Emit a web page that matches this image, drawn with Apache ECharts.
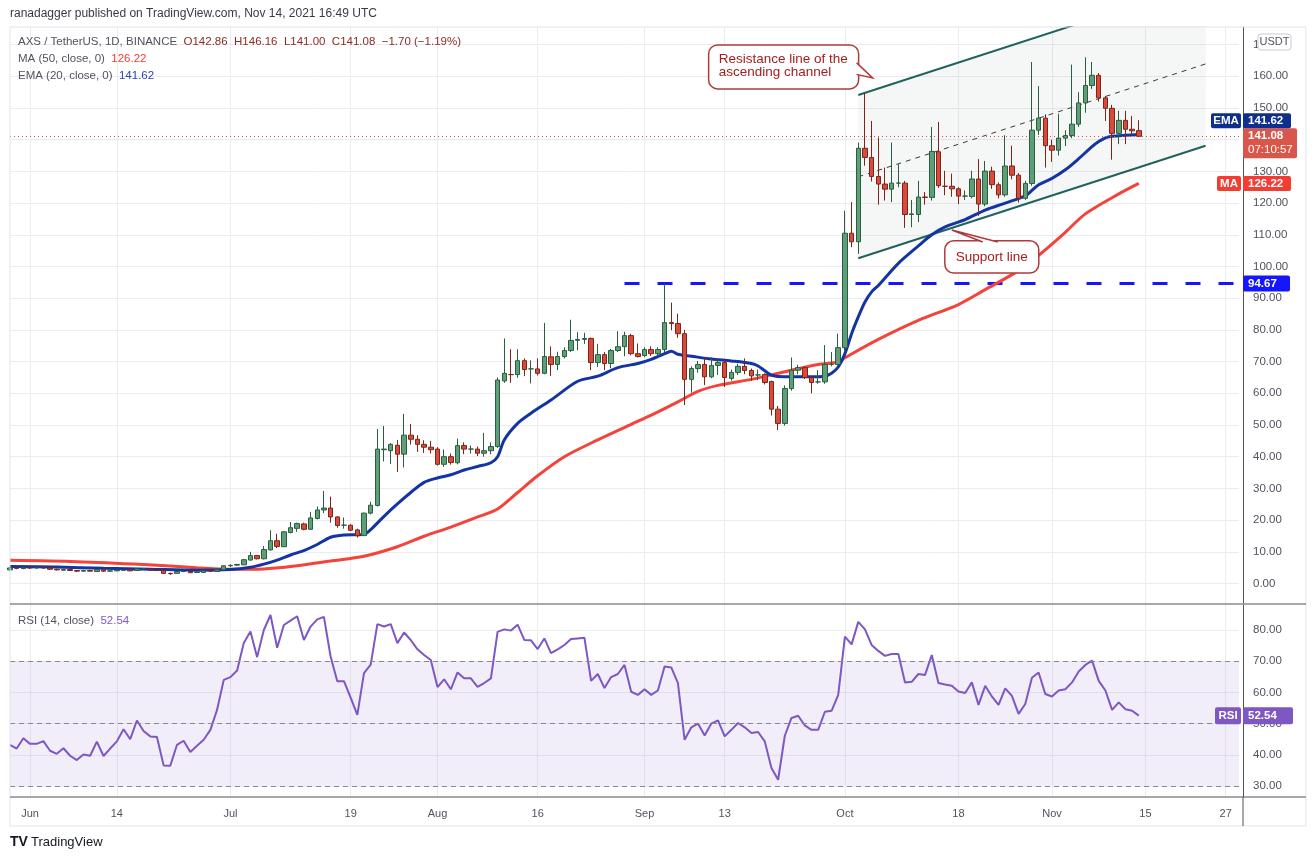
<!DOCTYPE html>
<html>
<head>
<meta charset="utf-8">
<title>AXS / TetherUS 1D</title>
<script src="https://cdn.jsdelivr.net/npm/echarts@6/dist/echarts.min.js"></script>
<style>
html, body { margin: 0; padding: 0; background: #fff; }
#chart { width: 1315px; height: 860px; }
</style>
</head>
<body>
<div id="chart"></div>
<script>
// ---- data ----
var tickDates = ['2021-06-01','2021-06-14','2021-07-01','2021-07-19','2021-08-01','2021-08-16',
  '2021-09-01','2021-09-13','2021-10-01','2021-10-18','2021-11-01','2021-11-15','2021-11-27'];
var priceTicks = [0,10,20,30,40,50,60,70,80,90,100,110,120,130,140,150,160,170];
var rsiTicks = [30,40,50,60,70,80];

// [open, close, low, high]
var ohlcMay = [[4.3,4.9,4.0,5.3],[4.9,4.8,4.5,5.2],[4.7,5.0,4.5,5.3]];
var ohlcJun = [
  [5.0,4.9,4.6,5.2],[4.9,5.0,4.7,5.3],[5.0,4.9,4.7,5.4],[4.9,4.5,4.3,5.1],[4.5,4.3,4.1,4.7],
  [4.2,4.4,4.1,4.6],[4.4,4.1,4.0,4.6],[4.1,3.9,3.6,4.2],[3.9,4.1,3.7,4.3],[4.1,3.9,3.8,4.3],
  [3.8,4.4,3.7,4.5],[4.3,3.9,3.7,4.4],[3.9,4.0,3.7,4.1],[4.0,4.2,3.9,4.4],[4.2,4.2,4.0,4.4],
  [4.3,4.0,3.9,4.4],[4.1,4.6,4.0,4.8],[4.6,4.6,4.3,4.8],[4.5,4.2,4.1,4.6],[4.2,4.1,3.9,4.3],
  [4.1,3.2,3.0,4.2],[3.2,3.1,2.7,3.4],[3.2,3.8,3.1,3.9],[3.8,3.8,3.6,4.0],[3.8,3.4,3.3,3.9],
  [3.5,3.6,3.3,3.7],[3.5,4.0,3.4,4.1],[4.0,3.9,3.7,4.2],[3.8,4.3,3.7,4.5],[4.3,5.6,4.2,5.8]
];
var ohlcJul = [
  [5.6,5.75,5.2,6.0],[5.8,6.0,5.5,6.2],[5.9,7.5,5.8,7.8],[7.4,8.8,7.2,10.0],[8.8,7.8,7.6,9.0],
  [7.8,10.7,7.6,11.8],[10.6,13.5,10.4,16.8],[13.5,11.7,11.2,15.7],[11.6,16.3,11.5,16.6],[16.1,17.6,15.8,19.4],
  [17.4,18.9,16.3,19.2],[18.8,17.1,16.8,19.2],[17.1,20.7,16.9,22.6],[20.5,23.2,20.2,24.3],[23.2,23.8,22.2,29.2],
  [23.8,21.0,19.2,27.4],[21.0,18.3,17.6,21.2],[18.4,18.4,17.3,20.8],[18.4,16.8,16.5,18.7],[16.9,15.1,14.5,17.3],
  [15.1,22.2,15.0,22.4],[22.2,24.7,21.8,25.8],[24.6,42.4,24.3,48.7],[42.2,42.4,38.5,49.7],[41.9,43.9,37.7,44.3],
  [43.6,40.8,35.2,45.3],[40.8,46.8,36.6,53.5],[46.8,45.5,43.8,50.3],[45.5,43.9,41.5,46.8],[43.9,43.0,41.2,45.2],
  [43.0,42.2,41.0,45.0]
];
var ohlcAug = [
  [42.4,37.6,37.2,43.0],[37.6,40.0,36.8,42.3],[40.0,38.2,37.5,41.0],[38.1,43.5,37.6,45.7],[43.5,42.4,40.8,44.5],
  [42.4,42.4,41.0,43.5],[42.4,41.1,40.2,43.2],[41.1,41.9,40.0,47.5],[41.9,43.2,40.8,44.5],[43.2,64.2,42.8,65.0],
  [63.9,66.3,63.3,77.3],[65.9,65.9,63.3,73.9],[65.9,70.3,64.9,73.9],[70.3,67.5,65.4,71.0],[67.7,67.7,63.1,70.4],
  [67.7,66.3,65.6,71.0],[66.3,71.6,66.0,82.2],[71.5,69.1,65.5,74.8],[69.1,71.6,67.3,73.1],[71.6,73.5,71.0,74.5],
  [73.5,76.7,73.0,83.2],[76.7,77.0,73.6,79.3],[77.0,77.3,75.6,79.1],[77.3,69.7,67.3,77.6],[69.7,72.2,68.3,75.6],
  [72.2,69.4,67.3,73.0],[69.4,73.5,67.9,74.0],[73.5,74.7,73.0,79.6],[74.7,78.2,71.7,79.4],[78.2,72.5,72.0,78.8],
  [72.5,71.6,71.3,75.7]
];
var ohlcSep = [
  [71.9,73.8,71.4,74.5],[73.8,72.5,71.8,74.8],[72.5,73.8,71.9,74.5],[73.8,82.3,73.0,94.6],[82.3,82.0,79.9,88.6],
  [82.0,78.8,77.5,85.1],[78.8,64.4,56.3,80.0],[64.4,67.8,60.2,68.5],[67.8,69.1,66.5,70.2],[69.1,65.2,62.6,71.3],
  [65.2,68.8,64.8,71.3],[68.8,69.7,65.8,71.0],[69.7,65.0,62.0,70.8],[64.7,66.6,64.0,67.5],[66.6,68.5,65.8,69.3],
  [68.5,67.2,66.0,71.0],[67.2,65.5,64.0,67.8],[65.8,65.8,64.2,67.5],[65.9,63.4,62.8,66.3],[63.7,55.0,53.0,64.0],
  [55.0,50.5,48.4,56.0],[50.5,61.5,49.8,62.5],[61.5,67.3,60.8,71.3],[67.3,68.1,66.0,69.0],[68.1,65.0,64.5,68.5],
  [65.0,63.4,60.0,65.5],[63.6,63.6,63.0,67.3],[63.6,69.1,63.0,75.2],[69.1,69.1,68.5,73.0],[69.1,74.4,68.8,78.8]
];
var ohlcOct = [
  [74.4,110.5,73.5,117.6],[110.5,107.8,106.1,120.3],[107.8,137.3,104.0,139.1],[137.3,134.4,131.8,154.8],
  [134.4,128.4,126.8,145.9],[128.4,126.0,119.5,140.7],[126.0,124.4,120.8,131.2],[124.4,126.3,120.3,139.1],
  [126.3,126.3,125.0,132.3],[126.3,116.4,112.2,127.0],[116.4,116.6,112.4,121.0],[116.4,121.9,114.0,127.0],
  [121.9,121.8,119.5,123.5],[121.8,136.3,120.8,144.0],[136.2,125.5,124.8,145.6],[125.3,125.3,122.5,130.2],
  [125.3,124.5,122.0,129.3],[124.5,122.2,119.7,125.0],[122.2,122.2,121.0,124.0],[122.1,127.6,121.5,130.2],
  [127.6,119.7,116.0,133.9],[119.7,130.1,119.0,133.3],[130.1,125.8,124.5,131.5],[125.8,122.6,121.5,126.5],
  [122.6,131.7,122.0,141.4],[131.7,128.8,127.5,138.1],[128.8,121.5,120.2,129.5],[121.5,126.2,121.0,127.0],
  [126.2,143.0,125.5,164.5],[143.0,146.8,141.5,156.9],[146.8,138.1,131.2,148.0]
];
var ohlcNov = [
  [138.1,136.7,133.0,140.0],[136.7,140.5,135.0,148.2],[140.5,141.3,138.0,143.0],[141.3,144.9,140.5,163.7],
  [144.9,151.6,144.0,155.0],[151.6,157.1,148.5,166.0],[157.1,160.3,156.0,164.5],[160.3,153.2,152.0,161.0],
  [153.2,149.9,145.9,153.8],[149.9,142.0,133.7,151.0],[142.0,146.1,138.6,149.1],[146.1,143.3,138.6,149.1],
  [143.3,142.8,141.5,147.5],[142.86,141.08,141.00,146.16]
];

var rsiMay = [43.2,42.0,45.3];
var rsiJun = [43.5,43.5,44.4,41.3,40.3,42.1,39.7,38.3,40.1,39.7,44.2,39.6,42.0,44.3,48.2,
  45.0,51.0,47.6,45.9,45.7,36.6,36.5,43.2,44.5,40.9,42.9,44.8,48.0,54.4,64.0];
var rsiJul = [64.9,67.0,75.8,79.5,71.3,80.0,84.8,74.3,81.6,83.0,84.4,76.8,81.1,83.4,84.2,
  71.5,63.6,63.6,58.3,52.8,66.2,68.9,81.9,81.1,81.9,75.8,79.2,76.8,73.8,72.0,70.4];
var rsiAug = [61.7,64.2,61.0,66.4,64.5,64.5,61.8,63.0,64.5,79.4,80.2,79.8,81.7,76.8,76.7,
  73.9,77.3,72.6,73.8,75.2,77.1,77.3,77.5,63.7,65.9,61.4,64.9,65.9,68.8,60.2,59.2];
var rsiSep = [61.0,59.2,60.6,68.3,68.0,63.0,44.8,48.8,50.0,46.2,50.0,51.0,45.9,48.0,50.2,
  48.8,47.0,47.3,44.3,35.8,32.0,46.1,51.8,52.5,49.4,48.0,48.0,53.8,54.1,59.2];
var rsiOct = [77.9,75.4,82.6,80.2,75.2,73.3,71.7,72.3,72.3,63.2,63.4,65.9,65.6,72.0,63.0,
  62.5,62.1,60.3,59.8,63.2,56.0,62.1,58.7,56.0,61.3,58.9,53.1,56.3,64.7,66.4,59.5];
var rsiNov = [58.7,60.6,61.0,63.2,66.7,68.8,70.2,63.7,60.6,54.4,56.8,54.6,54.1,52.54];

var maPoints = [
  ['2021-05-29',7.3],['2021-06-08',6.9],['2021-06-18',6.0],['2021-06-26',5.0],['2021-07-01',4.5],
  ['2021-07-06',4.6],['2021-07-11',5.6],['2021-07-16',7.1],['2021-07-21',8.6],['2021-07-26',11.6],
  ['2021-07-30',14.9],['2021-08-03',17.8],['2021-08-07',21.0],['2021-08-10',23.5],['2021-08-13',28.7],
  ['2021-08-16',34.0],['2021-08-20',40.0],['2021-08-25',45.3],['2021-08-30',50.2],['2021-09-02',53.1],
  ['2021-09-06',57.3],['2021-09-09',60.6],['2021-09-12',62.5],['2021-09-17',64.4],['2021-09-22',66.8],
  ['2021-09-27',69.1],['2021-09-30',69.9],['2021-10-01',71.2],['2021-10-06',77.0],['2021-10-12',83.0],
  ['2021-10-18',88.0],['2021-10-22',92.7],['2021-10-27',98.7],['2021-10-30',103.5],['2021-11-03',110.8],
  ['2021-11-06',116.6],['2021-11-11',122.9],['2021-11-14',126.22]
];
var emaPoints = [
  ['2021-05-29',5.4],['2021-06-05',5.2],['2021-06-12',4.8],['2021-06-19',4.5],['2021-06-26',4.2],
  ['2021-07-01',4.4],['2021-07-04',5.1],['2021-07-06',6.1],['2021-07-08',7.4],['2021-07-10',9.0],
  ['2021-07-12',10.4],['2021-07-14',12.3],['2021-07-16',14.6],['2021-07-18',15.3],['2021-07-20',15.4],
  ['2021-07-21',15.5],['2021-07-22',17.0],['2021-07-24',21.2],['2021-07-26',25.1],['2021-07-28',28.7],
  ['2021-07-30',31.9],['2021-08-01',33.3],['2021-08-03',34.3],['2021-08-05',35.8],['2021-08-07',36.9],
  ['2021-08-09',38.1],['2021-08-10',40.0],['2021-08-11',45.3],['2021-08-13',50.5],['2021-08-15',53.7],
  ['2021-08-18',57.9],['2021-08-22',63.8],['2021-08-25',65.4],['2021-08-28',68.1],['2021-08-31',69.4],
  ['2021-09-02',70.7],['2021-09-04',72.5],['2021-09-05',73.3],['2021-09-06',72.3],['2021-09-08',71.7],
  ['2021-09-11',70.8],['2021-09-14',70.2],['2021-09-17',69.4],['2021-09-18',68.6],['2021-09-19',67.1],
  ['2021-09-20',65.7],['2021-09-22',65.2],['2021-09-26',65.2],['2021-09-28',65.4],['2021-09-29',66.3],
  ['2021-09-30',68.3],['2021-10-01',72.5],['2021-10-02',78.8],['2021-10-03',84.1],['2021-10-04',88.8],
  ['2021-10-05',92.0],['2021-10-06',94.0],['2021-10-09',101.0],['2021-10-12',106.5],['2021-10-14',110.0],
  ['2021-10-16',112.5],['2021-10-19',114.8],['2021-10-22',117.8],['2021-10-25',120.0],['2021-10-28',122.3],
  ['2021-10-29',124.0],['2021-10-30',125.8],['2021-11-01',127.8],['2021-11-03',130.5],['2021-11-05',134.0],
  ['2021-11-07',137.8],['2021-11-08',139.4],['2021-11-09',140.6],['2021-11-10',141.1],['2021-11-12',141.4],
  ['2021-11-14',141.62]
];

// drawn channel and horizontal level
var channelDates = ['2021-10-03','2021-11-24'];
var channelLow = [102.6, 138.1];
var channelMid = [128.3, 163.9];
var channelHigh = [154.1, 189.6];
var levelDates = ['2021-08-29','2021-11-29'];
var levelValue = 94.67;

var lastClose = 141.08, lastMA = 126.22, lastEMA = 141.62, lastRSI = 52.54;

// ---- categories ----
function pad(n) { return n < 10 ? '0' + n : '' + n; }
var dates = [];
for (var t = Date.UTC(2021, 4, 29); t <= Date.UTC(2021, 10, 29); t += 86400000) {
  var d = new Date(t);
  dates.push(d.getUTCFullYear() + '-' + pad(d.getUTCMonth() + 1) + '-' + pad(d.getUTCDate()));
}
var monthNames = ['Jan','Feb','Mar','Apr','May','Jun','Jul','Aug','Sep','Oct','Nov','Dec'];
function isTick(index, value) { return tickDates.indexOf(value) >= 0; }
function dateLabel(value) {
  var p = value.split('-');
  return p[2] === '01' ? monthNames[+p[1] - 1] : String(+p[2]);
}

var candles = [].concat(ohlcMay, ohlcJun, ohlcJul, ohlcAug, ohlcSep, ohlcOct, ohlcNov);
var rsi = [].concat(rsiMay, rsiJun, rsiJul, rsiAug, rsiSep, rsiOct, rsiNov);

var lowLine = channelDates.map(function (d, i) { return [d, channelLow[i]]; });
var bandLine = channelDates.map(function (d, i) { return [d, channelHigh[i] - channelLow[i]]; });
var midLine = channelDates.map(function (d, i) { return [d, channelMid[i]]; });
var levelLine = levelDates.map(function (d) { return [d, levelValue]; });

var FONT = '"Liberation Sans", Arial, sans-serif';
var TEXT = '#50535e';
var GRID = '#ebecf0';

var chart = echarts.init(document.getElementById('chart'));

var option = {
  animation: false,
  backgroundColor: '#ffffff',
  grid: [
    { left: 10, top: 27, width: 1229, height: 576 },
    { left: 10, top: 605, width: 1229, height: 192 }
  ],
  xAxis: [
    {
      type: 'category', gridIndex: 0, data: dates, boundaryGap: false,
      axisLine: { show: false }, axisTick: { show: false }, axisLabel: { show: false },
      splitLine: { show: true, interval: isTick, lineStyle: { color: GRID } }
    },
    {
      type: 'category', gridIndex: 1, data: dates, boundaryGap: false,
      axisLine: { show: false }, axisTick: { show: false },
      axisLabel: { interval: isTick, formatter: dateLabel, color: TEXT, fontSize: 11, fontFamily: FONT, margin: 11 },
      splitLine: { show: true, interval: isTick, lineStyle: { color: GRID } }
    }
  ],
  yAxis: [
    {
      type: 'value', gridIndex: 0, position: 'right', offset: 4,
      min: -6.15, max: 175.55, splitNumber: 18,
      axisLine: { show: true, lineStyle: { color: '#50535e' } },
      axisTick: { show: false, customValues: priceTicks },
      axisLabel: { customValues: priceTicks, formatter: function (v) { return v.toFixed(2); },
        color: TEXT, fontSize: 11.5, fontFamily: FONT, margin: 10 },
      splitLine: { show: true, lineStyle: { color: GRID } }
    },
    {
      type: 'value', gridIndex: 1, position: 'right', offset: 4,
      min: 26.47, max: 88.01, splitNumber: 6,
      axisLine: { show: true, lineStyle: { color: '#50535e' } },
      axisTick: { show: false, customValues: rsiTicks },
      axisLabel: { customValues: rsiTicks, formatter: function (v) { return v.toFixed(2); },
        color: TEXT, fontSize: 11.5, fontFamily: FONT, margin: 10 },
      splitLine: { show: true, lineStyle: { color: GRID } }
    }
  ],
  series: [
    {
      name: 'channel low', type: 'line', xAxisIndex: 0, yAxisIndex: 0, data: lowLine, stack: 'channel',
      showSymbol: false, z: 2, silent: true,
      lineStyle: { color: '#22625e', width: 2 }
    },
    {
      name: 'channel band', type: 'line', xAxisIndex: 0, yAxisIndex: 0, data: bandLine, stack: 'channel',
      showSymbol: false, z: 2, silent: true,
      lineStyle: { color: '#22625e', width: 2 },
      areaStyle: { color: 'rgba(120,123,134,0.1)', origin: 'start' }
    },
    {
      name: 'channel mid', type: 'line', xAxisIndex: 0, yAxisIndex: 0, data: midLine,
      showSymbol: false, z: 3, silent: true,
      lineStyle: { color: '#3a3a3a', width: 1, type: [5, 5] }
    },
    {
      name: 'level', type: 'line', xAxisIndex: 0, yAxisIndex: 0, data: levelLine,
      showSymbol: false, z: 3, silent: true,
      lineStyle: { color: '#1515ff', width: 3, type: [15, 18] }
    },
    {
      name: 'MA 50', type: 'line', xAxisIndex: 0, yAxisIndex: 0, data: maPoints, smooth: 0.3,
      showSymbol: false, z: 4, lineStyle: { color: '#f4433b', width: 3 }
    },
    {
      name: 'EMA 20', type: 'line', xAxisIndex: 0, yAxisIndex: 0, data: emaPoints, smooth: 0.3,
      showSymbol: false, z: 4, lineStyle: { color: '#1434a4', width: 3 }
    },
    {
      name: 'AXS', type: 'candlestick', xAxisIndex: 0, yAxisIndex: 0, data: candles, barWidth: 5, z: 5,
      itemStyle: { color: '#5e9f79', color0: '#d64b3b', borderColor: '#2a5e3e', borderColor0: '#7e2418', borderWidth: 1 },
      markLine: {
        silent: true, symbol: 'none', label: { show: false },
        lineStyle: { color: '#e0483a', type: [1, 3], width: 1 },
        data: [{ yAxis: lastClose }]
      }
    },
    {
      name: 'RSI', type: 'line', xAxisIndex: 1, yAxisIndex: 1, data: rsi,
      showSymbol: false, z: 4, lineStyle: { color: '#7e57c2', width: 2 },
      markArea: { silent: true, itemStyle: { color: 'rgba(126,87,194,0.1)' }, data: [[{ yAxis: 30 }, { yAxis: 70 }]] },
      markLine: {
        silent: true, symbol: 'none', label: { show: false },
        lineStyle: { color: '#868993', type: [5, 4], width: 1 },
        data: [{ yAxis: 70 }, { yAxis: 50 }, { yAxis: 30 }]
      }
    }
  ]
};
chart.setOption(option);

// ---- overlays: legends, axis tags, callouts ----
function yPix(v, idx) { return chart.convertToPixel({ yAxisIndex: idx || 0 }, v); }
function pt(date, v) { return chart.convertToPixel({ gridIndex: 0 }, [date, v]); }
function txt(x, y, s, color, font, extra, z) {
  var st = { text: s, fill: color, font: font || ('12px ' + FONT), align: 'left', verticalAlign: 'middle' };
  if (extra) for (var k in extra) st[k] = extra[k];
  return { type: 'text', x: x, y: y, z: z || 120, style: st };
}
function axisTag(yc, h, value, color, name, nameW, valW) {
  var els = [
    { type: 'rect', z: 110, shape: { x: 1243, y: yc - h / 2, width: valW, height: h, r: 2 }, style: { fill: color } },
    txt(1248, yc + 0.5, value, '#ffffff', 'bold 11.5px ' + FONT)
  ];
  if (name) {
    els.push({ type: 'rect', z: 110, shape: { x: 1241 - nameW, y: yc - h / 2, width: nameW, height: h, r: 2 }, style: { fill: color } });
    els.push(txt(1241 - nameW / 2, yc + 0.5, name, '#ffffff', 'bold 11.5px ' + FONT, { align: 'center' }));
  }
  return els;
}
function callout(box, base1, tip, base2, lines, lineYs, centered) {
  var stroke = '#b03a3a';
  var els = [
    { type: 'rect', z: 130, shape: { x: box[0], y: box[1], width: box[2], height: box[3], r: 9 },
      style: { fill: '#ffffff', stroke: stroke, lineWidth: 1.5 } },
    { type: 'polygon', z: 131, shape: { points: [base1, tip, base2] }, style: { fill: '#ffffff' } },
    { type: 'polyline', z: 132, shape: { points: [base1, tip, base2] }, style: { stroke: stroke, lineWidth: 1.5, fill: null } }
  ];
  lines.forEach(function (s, i) {
    els.push(txt(centered ? box[0] + box[2] / 2 : box[0] + 10, lineYs[i], s, '#a51d1d', '13.5px ' + FONT,
      centered ? { align: 'center' } : null, 140));
  });
  return els;
}

var g = [];
// frame and separators
g.push({ type: 'rect', z: 90, shape: { x: 10, y: 27, width: 1296, height: 799 }, style: { fill: null, stroke: '#e0e3eb', lineWidth: 1 } });
g.push({ type: 'line', z: 95, shape: { x1: 10, y1: 604, x2: 1306, y2: 604 }, style: { stroke: '#50535e', lineWidth: 1.2 } });
g.push({ type: 'line', z: 95, shape: { x1: 10, y1: 797, x2: 1306, y2: 797 }, style: { stroke: '#50535e', lineWidth: 1.2 } });
g.push({ type: 'line', z: 95, shape: { x1: 1243, y1: 797, x2: 1243, y2: 826 }, style: { stroke: '#50535e', lineWidth: 1 } });

// header and legends
var LF = '11.5px ' + FONT;
g.push(txt(10, 14, 'ranadagger published on TradingView.com, Nov 14, 2021 16:49 UTC', '#363a45', '12px ' + FONT));
g.push({
  type: 'text', x: 18, y: 42, z: 120,
  style: {
    text: 'AXS / TetherUS, 1D, BINANCE  {v|O142.86}  {v|H146.16}  {v|L141.00}  {v|C141.08}  {v|\u22121.70 (\u22121.19%)}',
    fill: TEXT, font: LF, verticalAlign: 'middle',
    rich: { v: { fill: '#8b2c22', font: LF } }
  }
});
g.push({
  type: 'text', x: 18, y: 59, z: 120,
  style: { text: 'MA (50, close, 0)  {v|' + lastMA.toFixed(2) + '}', fill: TEXT, font: LF, verticalAlign: 'middle',
    rich: { v: { fill: '#f23b30', font: LF } } }
});
g.push({
  type: 'text', x: 18, y: 76, z: 120,
  style: { text: 'EMA (20, close, 0)  {v|' + lastEMA.toFixed(2) + '}', fill: TEXT, font: LF, verticalAlign: 'middle',
    rich: { v: { fill: '#2a44b0', font: LF } } }
});
g.push({
  type: 'text', x: 18, y: 621, z: 120,
  style: { text: 'RSI (14, close)  {v|' + lastRSI.toFixed(2) + '}', fill: TEXT, font: LF, verticalAlign: 'middle',
    rich: { v: { fill: '#7e57c2', font: LF } } }
});

// price scale tags
var yClose = yPix(lastClose);
var priceTop = yClose - 8;
g.push({ type: 'rect', z: 110, shape: { x: 1243, y: priceTop, width: 54, height: 30, r: 2 }, style: { fill: '#d9574a' } });
g.push(txt(1248, priceTop + 8, lastClose.toFixed(2), '#ffffff', 'bold 11.5px ' + FONT));
g.push(txt(1248, priceTop + 22, '07:10:57', '#ffffff', '11.5px ' + FONT));
g = g.concat(axisTag(priceTop - 7.5, 15, lastEMA.toFixed(2), '#0e2f8e', 'EMA', 30, 48));
g = g.concat(axisTag(yPix(lastMA), 15, lastMA.toFixed(2), '#f23d33', 'MA', 24, 48));
g = g.concat(axisTag(yPix(levelValue), 16, levelValue.toFixed(2), '#1515ff', null, 0, 47));
g = g.concat(axisTag(yPix(lastRSI, 1), 17, lastRSI.toFixed(2), '#7e57c2', 'RSI', 26, 50));
g.push({ type: 'rect', z: 110, shape: { x: 1258, y: 34, width: 33, height: 16, r: 3 }, style: { fill: '#ffffff', stroke: '#c9cbd1', lineWidth: 1 } });
g.push(txt(1274.5, 42, 'USDT', TEXT, '11px ' + FONT, { align: 'center' }));

// callouts
var tipR = pt('2021-10-05', 159.5);
g = g.concat(callout(
  [tipR[0] - 163, tipR[1] - 33, 150, 44],
  [tipR[0] - 15, tipR[1] - 15], [tipR[0] + 1, tipR[1]], [tipR[0] - 15, tipR[1] - 3.5],
  ['Resistance line of the', 'ascending channel'], [tipR[1] - 19, tipR[1] - 6], false));
var tipS = pt('2021-10-17', 111.5);
g = g.concat(callout(
  [tipS[0] - 7, tipS[1] + 10.7, 94, 32.3],
  [tipS[0] + 46, tipS[1] + 12], tipS, [tipS[0] + 31, tipS[1] + 12],
  ['Support line'], [tipS[1] + 27], true));

// footer logo
g.push(txt(10, 842, 'TV', '#131722', 'bold 14px ' + FONT));
g.push(txt(31, 842, 'TradingView', '#131722', '13px ' + FONT));

chart.setOption({ graphic: g });
</script>
</body>
</html>
